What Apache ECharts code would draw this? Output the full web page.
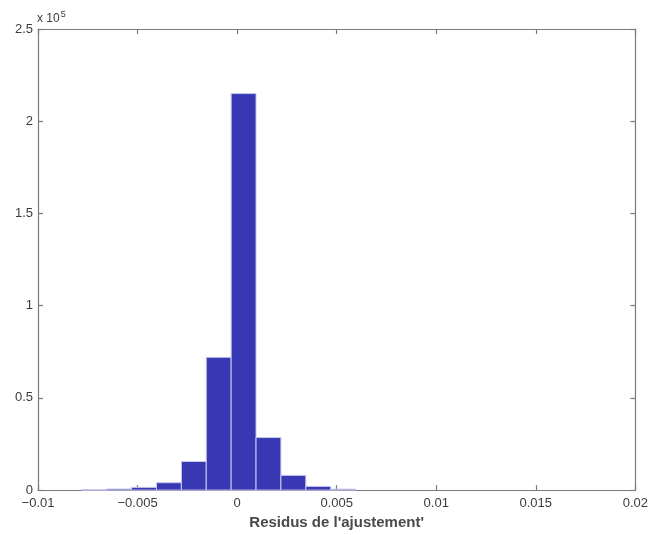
<!DOCTYPE html>
<html>
<head>
<meta charset="utf-8">
<script src="https://cdn.jsdelivr.net/npm/echarts@6/dist/echarts.min.js"></script>
<style>
html,body{margin:0;padding:0;background:#fff;}
#chart{width:651px;height:535px;}
</style>
</head>
<body>
<div id="chart"></div>
<script>
// ---- data ----
const binCenters = [-0.007175, -0.005925, -0.004675, -0.003425, -0.002175, -0.000925, 0.000325, 0.001575, 0.002825, 0.004075, 0.005325];
const binWidth = 0.00125;
const counts = [200, 600, 1500, 4000, 15500, 72000, 215000, 28500, 8000, 2000, 500];
const xTicks = [-0.01, -0.005, 0, 0.005, 0.01, 0.015, 0.02];
const yTicks = [0, 0.5, 1, 1.5, 2, 2.5];
const yScale = 1e5;
const xTitle = "Residus de l'ajustement'";

const chart = echarts.init(document.getElementById('chart'), null, {renderer: 'canvas'});
const FONT = '"Liberation Sans", Arial, Helvetica, sans-serif';
const AX = '#7a7a7a';
const TXT = '#3c3c3c';

function fmtX(v) {
  if (Math.abs(v) < 1e-12) return '0';
  let s = String(+v.toFixed(4));
  return s.replace('-', '\u2212');
}
function fmtY(v) {
  const r = +(v / yScale).toFixed(2);
  return String(r);
}

const data = binCenters.map((c, i) => [c - binWidth / 2, c + binWidth / 2, counts[i]]);

const axisBase = {
  axisLine: {show: true, onZero: false, lineStyle: {color: AX, width: 1.2}},
  axisTick: {show: true, inside: true, length: 5, lineStyle: {color: AX, width: 1.2}},
  splitLine: {show: false}
};

const option = {
  backgroundColor: '#ffffff',
  animation: false,
  grid: {left: 38, right: 13, top: 29, bottom: 37, containLabel: false},
  xAxis: [Object.assign({
    type: 'value', min: xTicks[0], max: xTicks[xTicks.length - 1], interval: 0.005,
    position: 'bottom',
    axisLabel: {formatter: fmtX, color: TXT, fontFamily: FONT, fontSize: 13, margin: 7},
    name: xTitle, nameLocation: 'middle', nameGap: 18,
    nameTextStyle: {color: '#4a4a4a', fontFamily: FONT, fontSize: 15, fontWeight: 'bold'}
  }, axisBase), Object.assign({
    type: 'value', min: xTicks[0], max: xTicks[xTicks.length - 1], interval: 0.005,
    position: 'top',
    axisLabel: {show: false}
  }, axisBase)],
  yAxis: [Object.assign({
    type: 'value', min: 0, max: yTicks[yTicks.length - 1] * yScale, interval: 0.5 * yScale,
    position: 'left',
    axisLabel: {formatter: fmtY, color: TXT, fontFamily: FONT, fontSize: 13, margin: 5}
  }, axisBase), Object.assign({
    type: 'value', min: 0, max: yTicks[yTicks.length - 1] * yScale, interval: 0.5 * yScale,
    position: 'right',
    axisLabel: {show: false}
  }, axisBase)],
  series: [{
    type: 'custom',
    xAxisIndex: 0, yAxisIndex: 0,
    data: data,
    encode: {x: [0, 1], y: 2},
    renderItem: function (params, api) {
      const p0 = api.coord([api.value(0), api.value(2)]);
      const p1 = api.coord([api.value(1), 0]);
      return {
        type: 'rect',
        shape: {x: p0[0], y: p0[1], width: p1[0] - p0[0], height: p1[1] - p0[1]},
        style: {fill: '#3838b4', stroke: '#c9c9ee', lineWidth: 1}
      };
    }
  }],
  graphic: [{
    type: 'text', left: 37, top: 10,
    style: {
      text: 'x 10{s|5}',
      rich: {s: {fontSize: 9, fontFamily: FONT, fill: TXT, verticalAlign: 'top', padding: [0, 0, 8, 1]}},
      fontSize: 12, fontFamily: FONT, fill: TXT
    }
  }]
};
chart.setOption(option);
</script>
</body>
</html>
